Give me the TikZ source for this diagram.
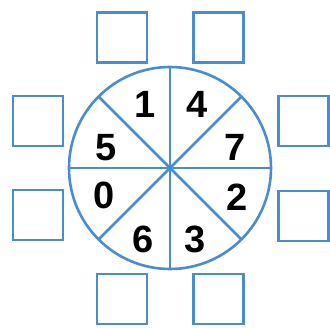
\documentclass[tikz,border=0pt]{standalone}
\usepackage{fontspec}
\setmainfont{Liberation Sans}
\usetikzlibrary{positioning}
\definecolor{wheelblue}{RGB}{74,140,208}

\begin{document}
\begin{tikzpicture}[x=1pt, y=-1pt, line width=2.6pt]
    \tikzset{
        ansbox/.style={draw=wheelblue, minimum size=50pt, inner sep=0pt, outer sep=0pt},
        digit/.style={font=\bfseries\fontsize{38}{38}\selectfont, inner sep=0pt}
    }
    \useasboundingbox (0,0) rectangle (330,328);
    % Vòng tròn và các nan
    \node[draw=wheelblue, circle, minimum size=202pt, inner sep=0pt, outer sep=0pt] (wheel) at (170,168) {};
    \foreach \a in {0,45,...,315} {
        \draw[wheelblue] (wheel.center) -- (wheel.\a);
    }
    % Các chữ số
    \foreach \n/\x/\y in {1/145/104, 4/197/104, 5/106/148, 7/235/147,
                          0/104/195, 2/237/197, 6/143/239, 3/195/239} {
        \node[digit] (d\n) at (\x,\y) {\n};
    }
    % Các ô trống
    \foreach \i/\x/\y in {1/122/37.5, 2/218.5/37.5, 3/38/121, 4/303.5/121,
                          5/38/215, 6/303.5/216, 7/122/299, 8/218.5/299} {
        \node[ansbox] (b\i) at (\x,\y) {};
    }
\end{tikzpicture}
\end{document}
